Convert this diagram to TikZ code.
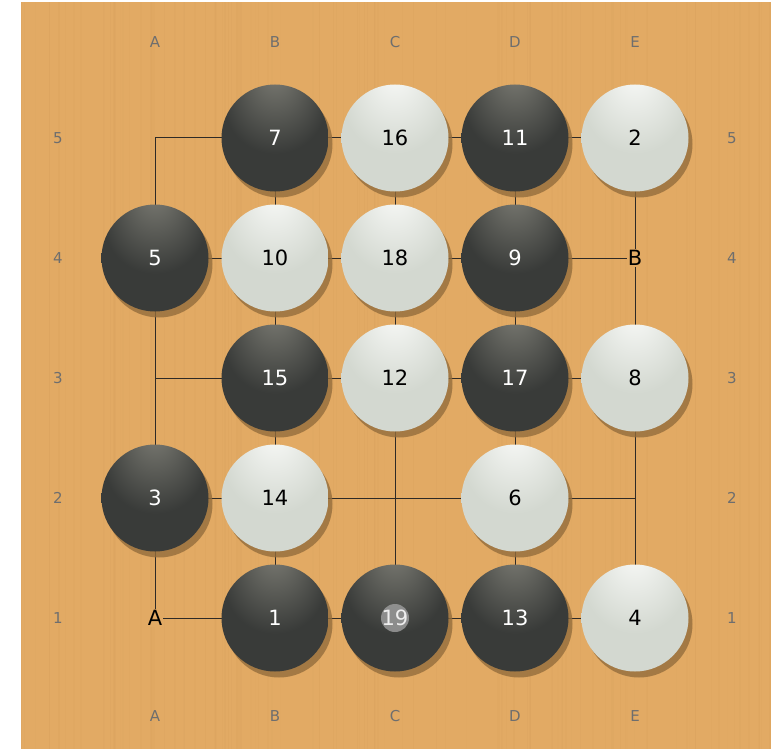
\documentclass[tikz,border=0pt]{standalone}
\usepackage{fontspec}
\setmainfont{DejaVu Sans}
\usetikzlibrary{shadows}
\definecolor{board}{HTML}{E2AA64}
\definecolor{grain}{HTML}{C8914E}
\definecolor{bbase}{HTML}{393B39}
\definecolor{bhigh}{HTML}{7C7C74}
\definecolor{wbase}{HTML}{D3D8D0}
\definecolor{whigh}{HTML}{F9FAF8}
\definecolor{shadowc}{HTML}{946D3C}
\definecolor{labelc}{HTML}{6E6E6E}
\definecolor{gridc}{HTML}{2E2A26}
\pgfdeclareradialshading{blackstone}{\pgfpoint{0bp}{32bp}}{color(0bp)=(bhigh); color(24bp)=(bbase); color(50bp)=(bbase)}
\pgfdeclareradialshading{whitestone}{\pgfpoint{0bp}{32bp}}{color(0bp)=(whigh); color(24bp)=(wbase); color(50bp)=(wbase)}
\tikzset{
  stonebase/.style={circle, minimum size=107pt, inner sep=0pt,
    font=\fontsize{21}{21}\selectfont,
    drop shadow={shadow xshift=4pt, shadow yshift=-6pt, fill=shadowc, opacity=0.8}},
  bstone/.style={stonebase, shading=blackstone, text=white},
  wstone/.style={stonebase, shading=whitestone, text=black},
  coordlabel/.style={text=labelc, font=\fontsize{15}{15}\selectfont, inner sep=0pt},
  marklabel/.style={fill=board, text=black, font=\fontsize{21}{21}\selectfont, inner sep=1pt},
  gridline/.style={draw=gridc, line width=1pt},
  lastmove/.style={circle, fill=gray!75, opacity=0.8, minimum size=28pt, inner sep=0pt}
}
\begin{document}
\begin{tikzpicture}[x=1pt,y=-1pt]
\useasboundingbox (0,0) rectangle (771,749);
\fill[white] (0,0) rectangle (771,749);
\fill[board] (21,2) rectangle (771,749);
% subtle wood grain
\pgfmathsetseed{7}
\begin{scope}
\clip (21,2) rectangle (771,749);
\foreach \i in {1,...,110}{
  \pgfmathsetmacro{\gx}{21+750*rnd}
  \pgfmathsetmacro{\gw}{0.5+1.5*rnd}
  \pgfmathsetmacro{\go}{0.03+0.07*rnd}
  \draw[grain, line width=\gw pt, opacity=\go] (\gx,2) -- (\gx,749);
}
\end{scope}
% coordinate labels
\foreach \c/\x in {A/155,B/275,C/395,D/515,E/635}{
  \node[coordlabel] (top\c) at (\x,42) {\c};
  \node[coordlabel] (bot\c) at (\x,716) {\c};
}
\foreach \r/\y in {5/138,4/258,3/378,2/498,1/618}{
  \node[coordlabel] (left\r) at (58,\y) {\r};
  \node[coordlabel] (right\r) at (732,\y) {\r};
}
% grid points
\foreach \c/\x in {A/155,B/275,C/395,D/515,E/635}{
  \foreach \r/\y in {5/138,4/258,3/378,2/498,1/618}{
    \coordinate (\c\r) at (\x,\y);
  }
}
% grid lines
\foreach \r in {1,...,5}{ \draw[gridline] (A\r) -- (E\r); }
\foreach \c in {A,B,C,D,E}{ \draw[gridline] (\c5) -- (\c1); }
% marks
\node[marklabel] (markA) at (A1) {A};
\node[marklabel] (markB) at (E4) {B};
% stones
\node[bstone] (s7)  at (B5) {7};
\node[wstone] (s16) at (C5) {16};
\node[bstone] (s11) at (D5) {11};
\node[wstone] (s2)  at (E5) {2};
\node[bstone] (s5)  at (A4) {5};
\node[wstone] (s10) at (B4) {10};
\node[wstone] (s18) at (C4) {18};
\node[bstone] (s9)  at (D4) {9};
\node[bstone] (s15) at (B3) {15};
\node[wstone] (s12) at (C3) {12};
\node[bstone] (s17) at (D3) {17};
\node[wstone] (s8)  at (E3) {8};
\node[bstone] (s3)  at (A2) {3};
\node[wstone] (s14) at (B2) {14};
\node[wstone] (s6)  at (D2) {6};
\node[bstone] (s1)  at (B1) {1};
\node[bstone] (s19) at (C1) {};
\node[bstone] (s13) at (D1) {13};
\node[wstone] (s4)  at (E1) {4};
\node[lastmove] (last) at (C1) {};
\node[text=white, opacity=0.85, font=\fontsize{21}{21}\selectfont, inner sep=0pt] (n19) at (C1) {19};
\end{tikzpicture}
\end{document}
